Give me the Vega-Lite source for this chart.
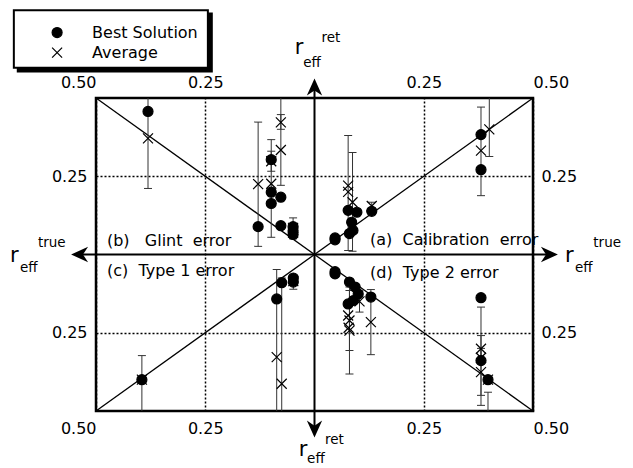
{
  "$schema": "https://vega.github.io/schema/vega-lite/v6.json",
  "width": 437,
  "height": 313,
  "autosize": "none",
  "padding": {"left": 96, "top": 98, "right": 100, "bottom": 57},
  "background": "white",
  "config": {
    "view": {"stroke": "black", "strokeWidth": 2.5},
    "font": "DejaVu Sans",
    "axis": {
      "labelFont": "DejaVu Sans", "labelFontSize": 16, "labelColor": "black",
      "domain": false, "ticks": false, "title": null,
      "gridColor": "black", "gridDash": [2, 2], "gridWidth": 1.5, "gridOpacity": 1
    }
  },
  "datasets": {
    "results": [
      {"type": "Average", "x": -0.381, "y": 0.371, "lo": 0.211, "hi": 0.56},
      {"type": "Average", "x": -0.129, "y": 0.225, "lo": 0.026, "hi": 0.423},
      {"type": "Average", "x": -0.099, "y": 0.226, "lo": 0.055, "hi": 0.367},
      {"type": "Average", "x": -0.099, "y": 0.298, "lo": 0.266, "hi": 0.33},
      {"type": "Average", "x": -0.077, "y": 0.334, "lo": 0.221, "hi": 0.447},
      {"type": "Average", "x": -0.077, "y": 0.422, "lo": 0.4, "hi": 0.56},
      {"type": "Average", "x": -0.049, "y": 0.085, "lo": 0.05, "hi": 0.117},
      {"type": "Average", "x": -0.049, "y": 0.07},
      {"type": "Average", "x": 0.077, "y": 0.2, "lo": 0.013, "hi": 0.38},
      {"type": "Average", "x": 0.087, "y": 0.167, "lo": 0.01, "hi": 0.326},
      {"type": "Average", "x": 0.077, "y": 0.22},
      {"type": "Average", "x": 0.131, "y": 0.155, "lo": 0.143, "hi": 0.167},
      {"type": "Average", "x": 0.381, "y": 0.332, "lo": 0.188, "hi": 0.471},
      {"type": "Average", "x": 0.4, "y": 0.4, "lo": 0.313, "hi": 0.56},
      {"type": "Average", "x": -0.0865, "y": -0.328, "lo": -0.6, "hi": -0.048},
      {"type": "Average", "x": -0.075, "y": -0.413, "lo": -0.75, "hi": -0.075},
      {"type": "Average", "x": -0.0485, "y": -0.085, "lo": -0.111, "hi": -0.066},
      {"type": "Average", "x": -0.395, "y": -0.4, "lo": -0.56, "hi": -0.323},
      {"type": "Average", "x": 0.08, "y": -0.243, "lo": -0.382, "hi": -0.104},
      {"type": "Average", "x": 0.077, "y": -0.195},
      {"type": "Average", "x": 0.08, "y": -0.211, "lo": -0.307, "hi": -0.115},
      {"type": "Average", "x": 0.078, "y": -0.234},
      {"type": "Average", "x": 0.129, "y": -0.216, "lo": -0.32, "hi": -0.112},
      {"type": "Average", "x": 0.103, "y": -0.15, "lo": -0.184, "hi": -0.116},
      {"type": "Average", "x": 0.381, "y": -0.33, "lo": -0.482, "hi": -0.168},
      {"type": "Average", "x": 0.381, "y": -0.301, "lo": -0.343, "hi": -0.259},
      {"type": "Average", "x": 0.381, "y": -0.376, "lo": -0.45, "hi": -0.3},
      {"type": "Average", "x": 0.397, "y": -0.4, "lo": -0.56, "hi": -0.44},
      {"type": "Best Solution", "x": -0.381, "y": 0.457},
      {"type": "Best Solution", "x": -0.129, "y": 0.089},
      {"type": "Best Solution", "x": -0.099, "y": 0.303},
      {"type": "Best Solution", "x": -0.099, "y": 0.199},
      {"type": "Best Solution", "x": -0.099, "y": 0.163},
      {"type": "Best Solution", "x": -0.077, "y": 0.183},
      {"type": "Best Solution", "x": -0.077, "y": 0.092},
      {"type": "Best Solution", "x": -0.049, "y": 0.089},
      {"type": "Best Solution", "x": -0.049, "y": 0.064},
      {"type": "Best Solution", "x": -0.049, "y": 0.075},
      {"type": "Best Solution", "x": 0.047, "y": 0.053},
      {"type": "Best Solution", "x": 0.047, "y": 0.047},
      {"type": "Best Solution", "x": 0.077, "y": 0.141},
      {"type": "Best Solution", "x": 0.097, "y": 0.135},
      {"type": "Best Solution", "x": 0.085, "y": 0.103},
      {"type": "Best Solution", "x": 0.088, "y": 0.077},
      {"type": "Best Solution", "x": 0.08, "y": 0.067},
      {"type": "Best Solution", "x": 0.131, "y": 0.138},
      {"type": "Best Solution", "x": 0.381, "y": 0.383},
      {"type": "Best Solution", "x": 0.381, "y": 0.271},
      {"type": "Best Solution", "x": -0.395, "y": -0.4},
      {"type": "Best Solution", "x": -0.075, "y": -0.09},
      {"type": "Best Solution", "x": -0.0865, "y": -0.142},
      {"type": "Best Solution", "x": -0.0485, "y": -0.088},
      {"type": "Best Solution", "x": -0.0485, "y": -0.075},
      {"type": "Best Solution", "x": 0.047, "y": -0.062},
      {"type": "Best Solution", "x": 0.047, "y": -0.055},
      {"type": "Best Solution", "x": 0.08, "y": -0.088},
      {"type": "Best Solution", "x": 0.093, "y": -0.104},
      {"type": "Best Solution", "x": 0.1, "y": -0.126},
      {"type": "Best Solution", "x": 0.077, "y": -0.158},
      {"type": "Best Solution", "x": 0.089, "y": -0.147},
      {"type": "Best Solution", "x": 0.129, "y": -0.136},
      {"type": "Best Solution", "x": 0.381, "y": -0.138},
      {"type": "Best Solution", "x": 0.381, "y": -0.339},
      {"type": "Best Solution", "x": 0.397, "y": -0.4}
    ],
    "keyEntries": [
      {"type": "Best Solution", "x": -0.589, "y": 0.709, "lx": -0.509},
      {"type": "Average", "x": -0.589, "y": 0.645, "lx": -0.509}
    ],
    "keyFrame": [
      {"part": "shadow", "x": -0.679, "x2": -0.235, "y": 0.77, "y2": 0.585},
      {"part": "frame", "x": -0.688, "x2": -0.244, "y": 0.78, "y2": 0.597}
    ],
    "diagonals": [
      {"g": "falling", "x": -0.5, "y": 0.5},
      {"g": "falling", "x": 0.5, "y": -0.5},
      {"g": "rising", "x": -0.5, "y": -0.5},
      {"g": "rising", "x": 0.5, "y": 0.5}
    ],
    "axisLines": [
      {"x": -0.545, "x2": 0.545, "y": 0, "y2": 0},
      {"x": 0, "x2": 0, "y": -0.57, "y2": 0.55}
    ],
    "arrowTips": [
      {"x": 0.557, "y": 0, "angle": 0},
      {"x": -0.557, "y": 0, "angle": 180},
      {"x": 0, "y": 0.562, "angle": 270},
      {"x": 0, "y": -0.585, "angle": 90}
    ],
    "axisNames": [
      {"x": 0.573, "y": -0.025, "t": "r"},
      {"x": -0.697, "y": -0.025, "t": "r"},
      {"x": -0.045, "y": 0.642, "t": "r"},
      {"x": -0.036, "y": -0.645, "t": "r"}
    ],
    "axisScripts": [
      {"x": 0.596, "y": -0.057, "t": "eff"},
      {"x": 0.638, "y": 0.023, "t": "true"},
      {"x": -0.674, "y": -0.057, "t": "eff"},
      {"x": -0.633, "y": 0.023, "t": "true"},
      {"x": -0.026, "y": 0.6, "t": "eff"},
      {"x": 0.016, "y": 0.68, "t": "ret"},
      {"x": -0.017, "y": -0.665, "t": "eff"},
      {"x": 0.024, "y": -0.605, "t": "ret"}
    ],
    "regions": [
      {"x": -0.475, "y": 0.026, "t": "(b)\u00a0\u00a0\u00a0Glint\u00a0\u00a0error"},
      {"x": -0.475, "y": -0.07, "t": "(c)\u00a0\u00a0Type\u00a01\u00a0error"},
      {"x": 0.127, "y": 0.029, "t": "(a)\u00a0\u00a0Calibration\u00a0\u00a0error"},
      {"x": 0.127, "y": -0.075, "t": "(d)\u00a0\u00a0Type\u00a02\u00a0error"}
    ]
  },
  "layer": [
    {
      "data": {"name": "diagonals"},
      "mark": {"type": "line", "color": "black", "strokeWidth": 1.3},
      "encoding": {
        "x": {
          "field": "x", "type": "quantitative",
          "scale": {"domain": [-0.5, 0.5], "nice": false, "zero": false},
          "axis": {
            "orient": "top", "values": [-0.5, -0.25, 0.25, 0.5], "grid": true, "labelPadding": 8,
            "labelExpr": "datum.value < -0.4 ? '0.50\u00a0' : datum.value > 0.4 ? '\u00a00.50' : '0.25'",
            "labelAlign": {"condition": [{"test": "datum.value < -0.4", "value": "right"}, {"test": "datum.value > 0.4", "value": "left"}], "value": "center"}
          }
        },
        "y": {
          "field": "y", "type": "quantitative",
          "scale": {"domain": [-0.5, 0.5], "nice": false, "zero": false},
          "axis": {"orient": "left", "values": [-0.25, 0.25], "grid": true, "labelPadding": 9, "labelExpr": "'0.25'"}
        },
        "detail": {"field": "g"}
      }
    },
    {
      "data": {"name": "axisLines"},
      "mark": {"type": "rule", "color": "black", "strokeWidth": 2},
      "encoding": {
        "x": {
          "field": "x", "type": "quantitative",
          "scale": {"domain": [-0.5, 0.5], "nice": false, "zero": false},
          "axis": {
            "orient": "bottom", "values": [-0.5, -0.25, 0.25, 0.5], "grid": false, "labelPadding": 9,
            "labelExpr": "datum.value < -0.4 ? '0.50\u00a0' : datum.value > 0.4 ? '\u00a00.50' : '0.25'",
            "labelAlign": {"condition": [{"test": "datum.value < -0.4", "value": "right"}, {"test": "datum.value > 0.4", "value": "left"}], "value": "center"}
          }
        },
        "x2": {"field": "x2"},
        "y": {
          "field": "y", "type": "quantitative",
          "scale": {"domain": [-0.5, 0.5], "nice": false, "zero": false},
          "axis": {"orient": "right", "values": [-0.25, 0.25], "grid": false, "labelPadding": 8, "labelExpr": "'0.25'"}
        },
        "y2": {"field": "y2"}
      }
    },
    {
      "data": {"name": "arrowTips"},
      "mark": {"type": "point", "shape": "M0,0L-2,-0.9L-1.4,0L-2,0.9Z", "size": 289, "filled": true, "color": "black", "opacity": 1},
      "encoding": {
        "x": {"field": "x", "type": "quantitative", "scale": {"domain": [-0.5, 0.5], "nice": false, "zero": false}, "axis": null},
        "y": {"field": "y", "type": "quantitative", "scale": {"domain": [-0.5, 0.5], "nice": false, "zero": false}, "axis": null},
        "angle": {"field": "angle", "type": "quantitative", "scale": null}
      }
    },
    {
      "data": {"name": "results"},
      "transform": [{"filter": "isValid(datum.lo)"}],
      "mark": {"type": "rule", "color": "#333", "strokeWidth": 1, "clip": true},
      "encoding": {
        "x": {"field": "x", "type": "quantitative", "scale": {"domain": [-0.5, 0.5], "nice": false, "zero": false}, "axis": null},
        "y": {"field": "lo", "type": "quantitative", "scale": {"domain": [-0.5, 0.5], "nice": false, "zero": false}, "axis": null},
        "y2": {"field": "hi"}
      }
    },
    {
      "data": {"name": "results"},
      "transform": [{"filter": "isValid(datum.lo)"}],
      "mark": {"type": "tick", "orient": "horizontal", "size": 8, "thickness": 1, "color": "#333", "opacity": 1, "clip": true},
      "encoding": {
        "x": {"field": "x", "type": "quantitative", "scale": {"domain": [-0.5, 0.5], "nice": false, "zero": false}, "axis": null},
        "y": {"field": "lo", "type": "quantitative", "scale": {"domain": [-0.5, 0.5], "nice": false, "zero": false}, "axis": null}
      }
    },
    {
      "data": {"name": "results"},
      "transform": [{"filter": "isValid(datum.hi)"}],
      "mark": {"type": "tick", "orient": "horizontal", "size": 8, "thickness": 1, "color": "#333", "opacity": 1, "clip": true},
      "encoding": {
        "x": {"field": "x", "type": "quantitative", "scale": {"domain": [-0.5, 0.5], "nice": false, "zero": false}, "axis": null},
        "y": {"field": "hi", "type": "quantitative", "scale": {"domain": [-0.5, 0.5], "nice": false, "zero": false}, "axis": null}
      }
    },
    {
      "data": {"name": "results"},
      "mark": {"type": "point", "size": 100, "filled": true, "color": "black", "stroke": "black", "strokeWidth": 1.2, "opacity": 1},
      "encoding": {
        "x": {"field": "x", "type": "quantitative", "scale": {"domain": [-0.5, 0.5], "nice": false, "zero": false}, "axis": null},
        "y": {"field": "y", "type": "quantitative", "scale": {"domain": [-0.5, 0.5], "nice": false, "zero": false}, "axis": null},
        "shape": {
          "field": "type", "type": "nominal",
          "scale": {"domain": ["Best Solution", "Average"], "range": ["circle", "M-1,-1L1,1M-1,1L1,-1"]},
          "legend": null
        }
      }
    },
    {
      "data": {"name": "keyFrame"},
      "mark": {"type": "rect", "clip": false},
      "encoding": {
        "x": {"field": "x", "type": "quantitative", "scale": {"domain": [-0.5, 0.5], "nice": false, "zero": false}, "axis": null},
        "x2": {"field": "x2"},
        "y": {"field": "y", "type": "quantitative", "scale": {"domain": [-0.5, 0.5], "nice": false, "zero": false}, "axis": null},
        "y2": {"field": "y2"},
        "fill": {"field": "part", "type": "nominal", "scale": {"domain": ["shadow", "frame"], "range": ["black", "white"]}, "legend": null},
        "stroke": {"value": "black"},
        "strokeWidth": {"value": 2}
      }
    },
    {
      "data": {"name": "keyEntries"},
      "mark": {"type": "point", "size": 100, "filled": true, "color": "black", "stroke": "black", "strokeWidth": 1.2, "opacity": 1},
      "encoding": {
        "x": {"field": "x", "type": "quantitative", "scale": {"domain": [-0.5, 0.5], "nice": false, "zero": false}, "axis": null},
        "y": {"field": "y", "type": "quantitative", "scale": {"domain": [-0.5, 0.5], "nice": false, "zero": false}, "axis": null},
        "shape": {"field": "type", "type": "nominal", "legend": null}
      }
    },
    {
      "data": {"name": "keyEntries"},
      "mark": {"type": "text", "align": "left", "baseline": "middle", "fontSize": 16, "font": "DejaVu Sans", "color": "black"},
      "encoding": {
        "x": {"field": "lx", "type": "quantitative", "scale": {"domain": [-0.5, 0.5], "nice": false, "zero": false}, "axis": null},
        "y": {"field": "y", "type": "quantitative", "scale": {"domain": [-0.5, 0.5], "nice": false, "zero": false}, "axis": null},
        "text": {"field": "type"}
      }
    },
    {
      "data": {"name": "regions"},
      "mark": {"type": "text", "align": "left", "baseline": "alphabetic", "fontSize": 16, "font": "DejaVu Sans", "color": "black"},
      "encoding": {
        "x": {"field": "x", "type": "quantitative", "scale": {"domain": [-0.5, 0.5], "nice": false, "zero": false}, "axis": null},
        "y": {"field": "y", "type": "quantitative", "scale": {"domain": [-0.5, 0.5], "nice": false, "zero": false}, "axis": null},
        "text": {"field": "t"}
      }
    },
    {
      "data": {"name": "axisNames"},
      "mark": {"type": "text", "align": "left", "baseline": "alphabetic", "fontSize": 21, "font": "DejaVu Sans", "color": "black"},
      "encoding": {
        "x": {"field": "x", "type": "quantitative", "scale": {"domain": [-0.5, 0.5], "nice": false, "zero": false}, "axis": null},
        "y": {"field": "y", "type": "quantitative", "scale": {"domain": [-0.5, 0.5], "nice": false, "zero": false}, "axis": null},
        "text": {"field": "t"}
      }
    },
    {
      "data": {"name": "axisScripts"},
      "mark": {"type": "text", "align": "left", "baseline": "alphabetic", "fontSize": 13.5, "font": "DejaVu Sans", "color": "black"},
      "encoding": {
        "x": {"field": "x", "type": "quantitative", "scale": {"domain": [-0.5, 0.5], "nice": false, "zero": false}, "axis": null},
        "y": {"field": "y", "type": "quantitative", "scale": {"domain": [-0.5, 0.5], "nice": false, "zero": false}, "axis": null},
        "text": {"field": "t"}
      }
    }
  ],
  "resolve": {"axis": {"x": "independent", "y": "independent"}}
}
